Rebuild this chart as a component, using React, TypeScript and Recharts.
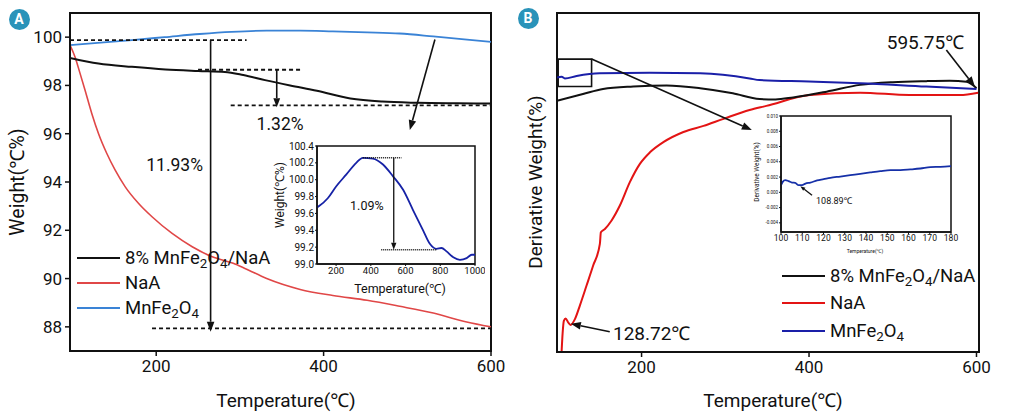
import React from 'react';
import { LineChart, Line, XAxis, YAxis, ReferenceLine, ReferenceDot, ReferenceArea, Legend } from 'recharts';

const FONT = 'Roboto, "Noto Sans", "Noto Sans CJK SC", sans-serif';
const INK = '#111';

// ---- panel A: TGA, weight (%) vs temperature
const tgaCompT = [97, 131, 171, 211, 250, 282, 304, 330, 360, 392, 432, 470, 512, 560, 600];
const tgaCompW = [99.14, 98.91, 98.77, 98.66, 98.6, 98.56, 98.43, 98.22, 98.0, 97.78, 97.46, 97.33, 97.28, 97.26, 97.25];
const tgaNaAT = [97, 103, 109, 115, 123, 131, 141, 151, 163, 179, 195, 219, 243, 267, 292, 306, 332, 372, 411, 452, 491, 531, 571, 600];
const tgaNaAW = [99.67, 99.18, 98.5, 97.8, 96.84, 96.01, 95.18, 94.49, 93.8, 93.11, 92.56, 91.87, 91.32, 90.9, 90.63, 90.42, 90.0, 89.55, 89.3, 89.1, 88.85, 88.57, 88.2, 88.0];
const tgaFerT = [97, 130, 171, 210, 252, 290, 332, 372, 411, 452, 491, 531, 565, 600];
const tgaFerW = [99.67, 99.76, 99.88, 100.0, 100.13, 100.22, 100.27, 100.27, 100.24, 100.2, 100.15, 100.03, 99.92, 99.8];
const tgaTicksX = [200, 400, 600];
const tgaTicksY = [88, 90, 92, 94, 96, 98, 100];

// inset of panel A: MnFe2O4 up to 1000 °C
const insetAT = [90, 104, 152, 200, 258, 316, 354, 412, 470, 528, 586, 643, 701, 740, 778, 807, 836, 875, 913, 952, 981, 1000];
const insetAW = [99.67, 99.69, 99.78, 99.92, 100.06, 100.2, 100.26, 100.25, 100.18, 100.04, 99.88, 99.64, 99.4, 99.24, 99.18, 99.19, 99.15, 99.08, 99.05, 99.07, 99.11, 99.11];
const insetATicksX = [200, 400, 600, 800, 1000];
const insetATicksY = [99.0, 99.2, 99.4, 99.6, 99.8, 100.0, 100.2, 100.4];

// ---- panel B: DTG (arbitrary units)
const dtgCompT = [99, 130, 154, 190, 230, 270, 309, 341, 360, 381, 421, 461, 500, 540, 568, 588, 600];
const dtgCompV = [74.1, 76.1, 77.6, 78.3, 78.6, 77.8, 76.3, 74.6, 74.5, 75.1, 76.8, 78.8, 79.6, 79.9, 80.0, 79.7, 77.8];
const dtgNaAT = [104.5, 105.7, 107.2, 109.3, 112.4, 115.2, 120.4, 126.3, 134.3, 142.2, 150.2, 151.4, 156.2, 164.2, 174.1, 186, 198, 210, 226, 250, 274, 297, 329, 349, 401, 461, 520, 580, 602];
const dtgNaAV = [0.1, 5.5, 9.2, 9.9, 8.7, 8.0, 9.7, 13.7, 19.6, 25.5, 31.9, 35.3, 36.3, 38.8, 43.2, 50.1, 55.5, 58.9, 61.9, 64.9, 66.7, 68.7, 71.4, 72.6, 75.8, 76.5, 75.8, 75.8, 76.5];
const dtgFerT = [99.2, 104.5, 108.4, 122.4, 150, 210, 270, 329, 341, 400, 461, 540, 600];
const dtgFerV = [81.0, 81.2, 80.7, 81.4, 82.2, 82.4, 82.2, 80.7, 80.2, 79.8, 79.3, 78.3, 77.6];

// inset of panel B: MnFe2O4 100-180 °C
const insetBT = [100, 100.8, 102, 103.6, 105.2, 106.7, 108.3, 109.9, 111.5, 113.8, 117, 120.1, 123.2, 127.9, 132.6, 137.3, 142, 146.7, 151.5, 156.2, 160.9, 165.6, 170.3, 175, 180];
const insetBV = [0.00093, 0.00137, 0.0016, 0.00146, 0.00128, 0.00124, 0.00093, 0.00093, 0.00115, 0.00128, 0.00155, 0.00172, 0.0019, 0.00207, 0.00225, 0.00242, 0.0026, 0.00277, 0.0029, 0.0029, 0.003, 0.00312, 0.0033, 0.00334, 0.00343];
const insetBTicksX = [100, 110, 120, 130, 140, 150, 160, 170, 180];
const insetBTicksY = [-0.004, -0.002, 0, 0.002, 0.004, 0.006, 0.008, 0.01];

const seriesNames = ['8% MnFe2O4/NaA', 'NaA', 'MnFe2O4'];

const zip = (t: number[], v: number[]) => t.map((x, i) => ({ t: x, v: v[i] }));

// line with a filled arrow head at (x2, y2)
const arrow = (head: number, w: number) => (p: any) => {
  const { x1, y1, x2, y2 } = p;
  const a = Math.atan2(y2 - y1, x2 - x1);
  const hw = head * 0.38;
  const bx = x2 - head * Math.cos(a);
  const by = y2 - head * Math.sin(a);
  const pts = `${x2},${y2} ${bx - hw * Math.sin(a)},${by + hw * Math.cos(a)} ${bx + hw * Math.sin(a)},${by - hw * Math.cos(a)}`;
  return (
    <g>
      <line x1={x1} y1={y1} x2={bx} y2={by} stroke={INK} strokeWidth={w} />
      <polygon points={pts} fill={INK} />
    </g>
  );
};

const note = (text: string, size: number) => (p: any) => (
  <text x={p.cx} y={p.cy} fontSize={size} fontFamily={FONT} fill={INK} textAnchor="middle" dominantBaseline="central">
    {text}
  </text>
);

const chem = (s: string) =>
  s.split(/(?<=[A-Za-z])(\d)/).map((part, i) =>
    i % 2 ? (
      <span key={i} style={{ fontSize: '0.72em', position: 'relative', top: '0.35em' }}>{part}</span>
    ) : (
      <span key={i}>{part}</span>
    )
  );

const LegendBox = ({ colors, size, rowH }: { colors: string[]; size: number; rowH: number }) => (
  <div style={{ fontFamily: FONT, fontSize: size, color: INK }}>
    {seriesNames.map((n, i) => (
      <div key={n} style={{ display: 'flex', alignItems: 'center', height: rowH, whiteSpace: 'nowrap' }}>
        <span style={{ display: 'inline-block', width: 43, borderTop: `2px solid ${colors[i]}`, marginRight: 5 }} />
        <span>{chem(n)}</span>
      </div>
    ))}
  </div>
);

const Title = ({ x, y, text, size, rotate }: { x: number; y: number; text: string; size: number; rotate?: boolean }) => (
  <div
    style={{
      position: 'absolute',
      left: x,
      top: y,
      transform: `translate(-50%,-50%)${rotate ? ' rotate(-90deg)' : ''}`,
      fontSize: size,
      lineHeight: 1,
      whiteSpace: 'nowrap',
    }}
  >
    {text}
  </div>
);

const Badge = ({ x, y, letter }: { x: number; y: number; letter: string }) => (
  <div
    style={{
      position: 'absolute',
      left: x - 10.5,
      top: y - 10.5,
      width: 21,
      height: 21,
      borderRadius: '50%',
      background: '#2a93b9',
      color: '#fff',
      fontWeight: 700,
      fontSize: 14,
      display: 'flex',
      alignItems: 'center',
      justifyContent: 'center',
    }}
  >
    {letter}
  </div>
);

const axisLine = { stroke: INK, strokeWidth: 2 };
const tickLine = { stroke: INK, strokeWidth: 1.5 };
const bigTick = { fontSize: 17, fill: INK, fontFamily: FONT };

const PanelA = () => (
  <LineChart width={530} height={416} margin={{ top: 13, right: 39, bottom: 10, left: 0 }}>
    <XAxis type="number" dataKey="t" domain={[97, 600]} ticks={tgaTicksX} allowDataOverflow height={55}
      tickSize={5} tickMargin={4} axisLine={axisLine} tickLine={tickLine} tick={bigTick} />
    <YAxis type="number" dataKey="v" domain={[87, 101]} ticks={tgaTicksY} allowDataOverflow width={70}
      tickSize={5} tickMargin={3} axisLine={axisLine} tickLine={tickLine} tick={bigTick} />
    <ReferenceArea x1={97} x2={600} y1={87} y2={101} fill="none" stroke={INK} strokeWidth={2} ifOverflow="visible" />
    <Line data={zip(tgaFerT, tgaFerW)} dataKey="v" type="monotone" stroke="#3a83d6" strokeWidth={1.8} dot={false} isAnimationActive={false} />
    <Line data={zip(tgaNaAT, tgaNaAW)} dataKey="v" type="monotone" stroke="#e04747" strokeWidth={1.6} dot={false} isAnimationActive={false} />
    <Line data={zip(tgaCompT, tgaCompW)} dataKey="v" type="monotone" stroke={INK} strokeWidth={2} dot={false} isAnimationActive={false} />
    <ReferenceLine segment={[{ x: 97, y: 99.88 }, { x: 308, y: 99.88 }]} stroke={INK} strokeWidth={1.8} strokeDasharray="4 3" ifOverflow="visible" />
    <ReferenceLine segment={[{ x: 195, y: 87.94 }, { x: 600, y: 87.94 }]} stroke={INK} strokeWidth={1.8} strokeDasharray="4 3" ifOverflow="visible" />
    <ReferenceLine segment={[{ x: 250, y: 98.65 }, { x: 374, y: 98.65 }]} stroke={INK} strokeWidth={1.8} strokeDasharray="4 3" ifOverflow="visible" />
    <ReferenceLine segment={[{ x: 289, y: 97.17 }, { x: 600, y: 97.17 }]} stroke={INK} strokeWidth={1.8} strokeDasharray="4 3" ifOverflow="visible" />
    <ReferenceLine segment={[{ x: 265, y: 99.88 }, { x: 265, y: 87.8 }]} shape={arrow(10, 1.6)} ifOverflow="visible" />
    <ReferenceLine segment={[{ x: 344, y: 98.65 }, { x: 344, y: 97.1 }]} shape={arrow(9, 1.6)} ifOverflow="visible" />
    <ReferenceLine segment={[{ x: 533, y: 99.9 }, { x: 503, y: 96.15 }]} shape={arrow(10, 1.6)} ifOverflow="visible" />
    <ReferenceDot x={222} y={94.7} r={0} shape={note('11.93%', 17.5)} ifOverflow="visible" />
    <ReferenceDot x={348} y={96.4} r={0} shape={note('1.32%', 17.5)} ifOverflow="visible" />
    <Legend layout="vertical" align="center" verticalAlign="middle" wrapperStyle={{ left: 77, top: 245 }}
      content={() => <LegendBox colors={[INK, '#e04747', '#3a83d6']} size={18.5} rowH={25} />} />
  </LineChart>
);

const InsetA = () => (
  <LineChart width={215} height={160} margin={{ top: 6, right: 10, bottom: 0, left: 0 }}>
    <XAxis type="number" dataKey="t" domain={[90, 1000]} ticks={insetATicksX} allowDataOverflow height={36}
      tickSize={2} tickMargin={1} axisLine={{ stroke: INK, strokeWidth: 1.5 }} tickLine={{ stroke: INK }}
      tick={{ fontSize: 9.5, fill: INK, fontFamily: FONT }} />
    <YAxis type="number" dataKey="v" domain={[99, 100.4]} ticks={insetATicksY} allowDataOverflow width={47}
      tickSize={2} tickMargin={1} axisLine={{ stroke: INK, strokeWidth: 1.5 }} tickLine={{ stroke: INK }}
      tick={{ fontSize: 10, fill: INK, fontFamily: FONT }} tickFormatter={(v: number) => v.toFixed(1)} />
    <ReferenceArea x1={90} x2={1000} y1={99} y2={100.4} fill="none" stroke={INK} strokeWidth={1.5} ifOverflow="visible" />
    <Line data={zip(insetAT, insetAW)} dataKey="v" type="monotone" stroke="#1622a6" strokeWidth={1.8} dot={false} isAnimationActive={false} />
    <ReferenceLine segment={[{ x: 354, y: 100.26 }, { x: 576, y: 100.26 }]} stroke={INK} strokeWidth={1.5} strokeDasharray="1 1" ifOverflow="visible" />
    <ReferenceLine segment={[{ x: 460, y: 99.17 }, { x: 778, y: 99.17 }]} stroke={INK} strokeWidth={1.5} strokeDasharray="1 1" ifOverflow="visible" />
    <ReferenceLine segment={[{ x: 532, y: 100.26 }, { x: 532, y: 99.17 }]} shape={arrow(7, 1.3)} ifOverflow="visible" />
    <ReferenceDot x={377} y={99.69} r={0} shape={note('1.09%', 12.5)} ifOverflow="visible" />
  </LineChart>
);

const PanelB = () => (
  <LineChart width={515} height={416} margin={{ top: 13, right: 36, bottom: 9, left: 57 }}>
    <XAxis type="number" dataKey="t" domain={[99, 603]} ticks={tgaTicksX} allowDataOverflow height={55}
      tickSize={5} tickMargin={4} axisLine={axisLine} tickLine={tickLine} tick={bigTick} />
    <YAxis hide type="number" dataKey="v" domain={[0, 100]} allowDataOverflow />
    <ReferenceArea x1={99} x2={603} y1={0} y2={100} fill="none" stroke={INK} strokeWidth={2} ifOverflow="visible" />
    <Line data={zip(dtgNaAT, dtgNaAV)} dataKey="v" type="monotone" stroke="#e31414" strokeWidth={2} dot={false} isAnimationActive={false} />
    <Line data={zip(dtgCompT, dtgCompV)} dataKey="v" type="monotone" stroke={INK} strokeWidth={2} dot={false} isAnimationActive={false} />
    <Line data={zip(dtgFerT, dtgFerV)} dataKey="v" type="monotone" stroke="#1a1fa8" strokeWidth={2} dot={false} isAnimationActive={false} />
    <ReferenceArea x1={100.4} x2={140.3} y1={78.3} y2={86.4} fill="none" stroke={INK} strokeWidth={1.6} ifOverflow="visible" />
    <ReferenceLine segment={[{ x: 140.3, y: 86.4 }, { x: 331.7, y: 65.5 }]} shape={arrow(10, 1.6)} ifOverflow="visible" />
    <ReferenceLine segment={[{ x: 564, y: 89.1 }, { x: 598, y: 78.3 }]} shape={arrow(10, 1.6)} ifOverflow="visible" />
    <ReferenceLine segment={[{ x: 162, y: 6.0 }, { x: 115.5, y: 8.3 }]} shape={arrow(10, 1.6)} ifOverflow="visible" />
    <ReferenceDot x={539} y={91.2} r={0} shape={note('595.75℃', 19)} ifOverflow="visible" />
    <ReferenceDot x={212} y={5.5} r={0} shape={note('128.72℃', 19)} ifOverflow="visible" />
    <Legend layout="vertical" align="center" verticalAlign="middle" wrapperStyle={{ left: 282, top: 262 }}
      content={() => <LegendBox colors={[INK, '#e31414', '#1a1fa8']} size={18.5} rowH={27.5} />} />
  </LineChart>
);

const InsetB = () => (
  <LineChart width={220} height={150} margin={{ top: 8, right: 9, bottom: 0, left: 0 }}>
    <XAxis type="number" dataKey="t" domain={[100, 180]} ticks={insetBTicksX} allowDataOverflow height={26}
      tickSize={2} tickMargin={1} axisLine={{ stroke: INK, strokeWidth: 1.5 }} tickLine={{ stroke: INK }}
      tick={{ fontSize: 8.5, fill: INK, fontFamily: FONT }} />
    <YAxis type="number" dataKey="v" domain={[-0.0052, 0.01]} ticks={insetBTicksY} allowDataOverflow width={41}
      tickSize={2} tickMargin={1} axisLine={{ stroke: INK, strokeWidth: 1.5 }} tickLine={{ stroke: INK }}
      tick={{ fontSize: 4.5, fill: INK, fontFamily: FONT }} tickFormatter={(v: number) => v.toFixed(3)} />
    <ReferenceArea x1={100} x2={180} y1={-0.0052} y2={0.01} fill="none" stroke={INK} strokeWidth={1.5} ifOverflow="visible" />
    <Line data={zip(insetBT, insetBV)} dataKey="v" type="monotone" stroke="#1630a8" strokeWidth={1.8} dot={false} isAnimationActive={false} />
    <ReferenceLine segment={[{ x: 114.6, y: -0.00038 }, { x: 109.1, y: 0.0008 }]} shape={arrow(5, 1.3)} ifOverflow="visible" />
    <ReferenceDot x={125.1} y={-0.00113} r={0} shape={note('108.89℃', 9)} ifOverflow="visible" />
  </LineChart>
);

export default function App() {
  return (
    <div style={{ position: 'absolute', left: 0, top: 0, width: 1015, height: 416, background: '#fff', fontFamily: FONT, color: INK, overflow: 'hidden' }}>
      <div style={{ position: 'absolute', left: 0, top: 0 }}><PanelA /></div>
      <div style={{ position: 'absolute', left: 500, top: 0 }}><PanelB /></div>
      <div style={{ position: 'absolute', left: 270, top: 140 }}><InsetA /></div>
      <div style={{ position: 'absolute', left: 740, top: 108 }}><InsetB /></div>
      <Title x={18} y={182} text="Weight(℃%)" size={19.5} rotate />
      <Title x={286} y={400} text="Temperature(℃)" size={19} />
      <Title x={535} y={182} text="Derivative Weight(%)" size={19} rotate />
      <Title x={773} y={400} text="Temperature(℃)" size={19} />
      <Title x={280} y={195} text="Weight(℃%)" size={12} rotate />
      <Title x={400} y={289} text="Temperature(℃)" size={12.5} />
      <Title x={757} y={172} text="Derivative Weight(%)" size={6.5} rotate />
      <Title x={865} y={251} text="Temperature(℃)" size={5} />
      <Badge x={19} y={19} letter="A" />
      <Badge x={528} y={18} letter="B" />
    </div>
  );
}
